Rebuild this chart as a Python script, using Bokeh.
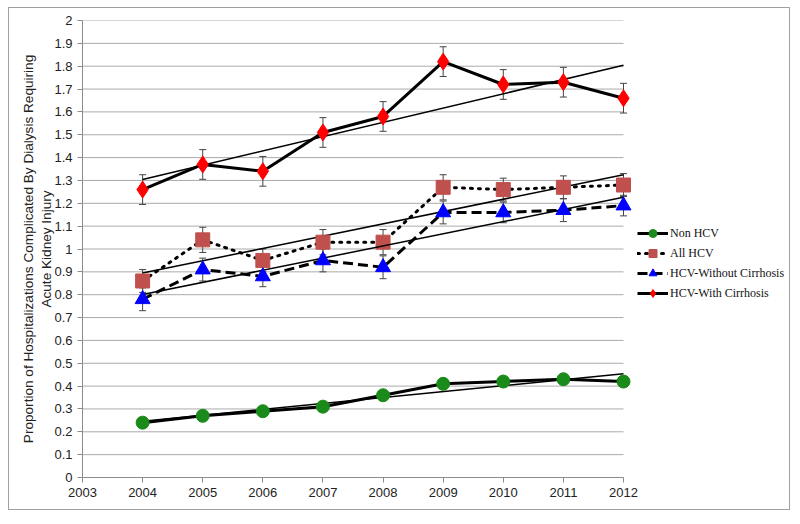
import numpy as np
from bokeh.plotting import figure
from bokeh.models import (ColumnDataSource, Whisker, Legend, LegendItem,
                          FixedTicker, Range1d, TeeHead)
from bokeh.embed import file_html
from bokeh.resources import INLINE

years = [2004, 2005, 2006, 2007, 2008, 2009, 2010, 2011, 2012]
non_hcv = [0.24, 0.27, 0.29, 0.31, 0.36, 0.41, 0.42, 0.43, 0.42]
all_hcv = [0.86, 1.04, 0.95, 1.03, 1.03, 1.27, 1.26, 1.27, 1.28]
hcv_without = [0.78, 0.91, 0.88, 0.95, 0.92, 1.16, 1.16, 1.17, 1.19]
hcv_with = [1.26, 1.37, 1.34, 1.51, 1.58, 1.82, 1.72, 1.73, 1.66]

err_non = [0.008, 0.008, 0.008, 0.008, 0.008, 0.008, 0.008, 0.008, 0.008]
err_all = [0.05, 0.055, 0.05, 0.055, 0.055, 0.055, 0.05, 0.05, 0.05]
err_without = [0.05, 0.05, 0.045, 0.05, 0.05, 0.05, 0.045, 0.05, 0.045]
err_with = [0.065, 0.065, 0.065, 0.065, 0.065, 0.065, 0.065, 0.065, 0.065]

x_ticks = [2003, 2004, 2005, 2006, 2007, 2008, 2009, 2010, 2011, 2012]
y_ticks = [0, 0.1, 0.2, 0.3, 0.4, 0.5, 0.6, 0.7, 0.8, 0.9, 1.0,
           1.1, 1.2, 1.3, 1.4, 1.5, 1.6, 1.7, 1.8, 1.9, 2.0]
y_tick_labels = ["0", "0.1", "0.2", "0.3", "0.4", "0.5", "0.6", "0.7", "0.8", "0.9", "1",
                 "1.1", "1.2", "1.3", "1.4", "1.5", "1.6", "1.7", "1.8", "1.9", "2"]

series_names = ["Non HCV", "All HCV", "HCV-Without Cirrhosis", "HCV-With Cirrhosis"]
series_vals = [non_hcv, all_hcv, hcv_without, hcv_with]
series_errs = [err_non, err_all, err_without, err_with]
markers = ["circle", "square", "triangle", "diamond"]
colors = ["#1a8a1a", "#c0504d", "#0000ff", "#ff0000"]
sizes = [13, 14, 15, 17]
dashes = ["solid", "2 6", "10 5", "solid"]

# layout (pixels)
W, H = 782, 503
LEFT, TOP, BOTTOM = 73, 12, 34
DATA_W = 541  # pixel width of the 2003..2012 span
x0, x1 = x_ticks[0], x_ticks[-1]
x_end = x0 + (x1 - x0) * (W - LEFT) / DATA_W

p = figure(width=W, height=H, output_backend="svg", toolbar_location=None,
           x_range=Range1d(x0, x_end), y_range=Range1d(0, 2),
           min_border_left=LEFT, min_border_right=0, min_border_top=TOP,
           min_border_bottom=BOTTOM)
p.styles = {"border": "1px solid #a0a0a0", "margin-left": "8px", "margin-top": "7px"}
p.outline_line_color = None
p.xgrid.grid_line_color = None
p.ygrid.grid_line_color = None

# horizontal gridlines limited to the data span
p.segment(x0=[x0] * len(y_ticks), x1=[x1] * len(y_ticks), y0=y_ticks, y1=y_ticks,
          line_color="#ababab", line_width=1, level="underlay")

p.xaxis.ticker = FixedTicker(ticks=x_ticks)
p.xaxis.bounds = (x0, x1)
p.yaxis.ticker = FixedTicker(ticks=y_ticks)
p.yaxis.major_label_overrides = {t: l for t, l in zip(y_ticks, y_tick_labels)}
for ax in (p.xaxis, p.yaxis):
    ax.axis_line_color = "#8c8c8c"
    ax.major_tick_line_color = "#8c8c8c"
    ax.major_tick_in = 0
    ax.major_tick_out = 5
    ax.minor_tick_line_color = None
    ax.major_label_text_font = "Liberation Sans"
    ax.major_label_text_font_size = "13px"
    ax.major_label_text_color = "#222222"
p.yaxis.axis_label = "Proportion of Hospitalizations Complicated By Dialysis Requiring\nAcute Kidney Injury"
p.yaxis.axis_label_text_font = "Liberation Sans"
p.yaxis.axis_label_text_font_size = "13.6px"
p.yaxis.axis_label_text_font_style = "normal"
p.yaxis.axis_label_text_color = "#222222"
p.yaxis.axis_label_standoff = -3

items = []
for name, vals, errs, mk, col, sz, dash in zip(series_names, series_vals, series_errs,
                                               markers, colors, sizes, dashes):
    src = ColumnDataSource(dict(x=years, y=vals,
                                upper=[v + e for v, e in zip(vals, errs)],
                                lower=[v - e for v, e in zip(vals, errs)]))
    w = Whisker(base="x", upper="upper", lower="lower", source=src,
                line_color="#444444", line_width=1,
                upper_head=TeeHead(size=7, line_color="#444444", line_width=1),
                lower_head=TeeHead(size=7, line_color="#444444", line_width=1))
    p.add_layout(w)
    slope, icpt = np.polyfit(years, vals, 1)
    tx = [years[0], years[-1]]
    p.line(tx, [slope * t + icpt for t in tx], line_color="black", line_width=1.5)
    ln = p.line("x", "y", source=src, line_color="black", line_width=3,
                line_dash=dash, line_cap="round" if dash == "2 6" else "butt")
    sc = p.scatter("x", "y", source=src, marker=mk, size=sz, fill_color=col,
                   line_color=col)
    items.append(LegendItem(label=name, renderers=[ln, sc]))

legend = Legend(items=items, location=(555, 174), orientation="vertical",
                border_line_color=None, background_fill_alpha=0,
                glyph_width=31, glyph_height=20, label_height=20, spacing=0,
                padding=0, margin=0, label_standoff=2,
                label_text_font="Liberation Serif", label_text_font_size="12px",
                label_text_color="#111111")
p.add_layout(legend)

open("out.html", "w").write(file_html(p, INLINE))
